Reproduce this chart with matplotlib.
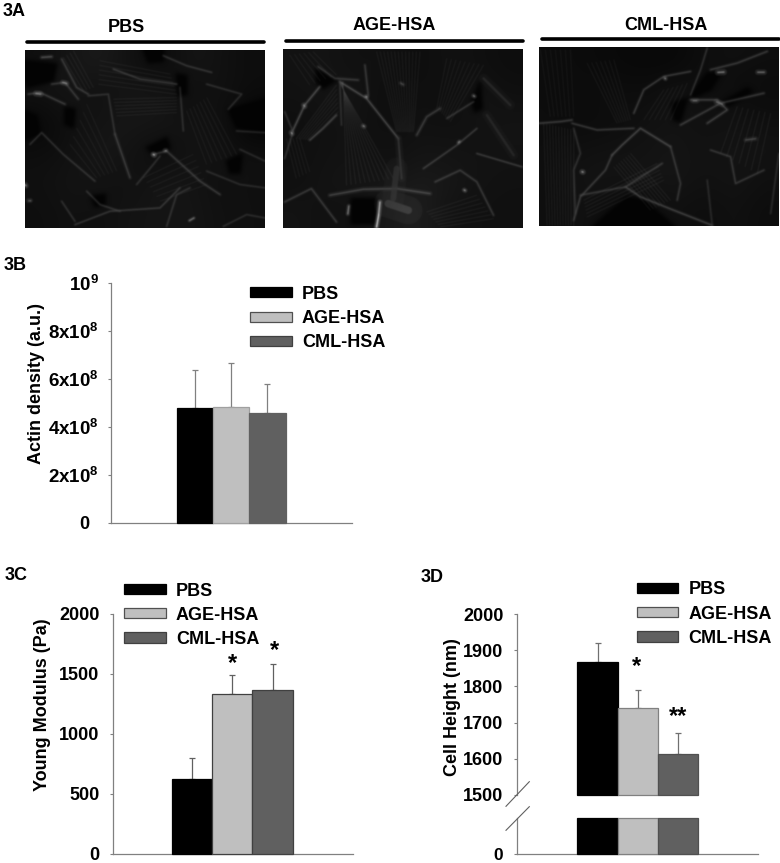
import numpy as np
import matplotlib
matplotlib.use("Agg")
import matplotlib.pyplot as plt
from matplotlib.backends.backend_agg import FigureCanvasAgg
from matplotlib.figure import Figure
from matplotlib.lines import Line2D
from matplotlib.patches import Patch, Polygon

plt.rcParams['font.family'] = ['Liberation Sans', 'DejaVu Sans']
plt.rcParams['font.weight'] = 'bold'
plt.rcParams['mathtext.fontset'] = 'custom'
plt.rcParams['mathtext.bf'] = 'Liberation Sans:bold'
plt.rcParams['mathtext.rm'] = 'Liberation Sans:bold'
plt.rcParams['mathtext.default'] = 'bf'

W, H = 780, 863
FS = 13

# ---------- data ----------
groups = ['PBS', 'AGE-HSA', 'CML-HSA']
colors = ['#000000', '#BFBFBF', '#606060']

actin = [4.77e8, 4.81e8, 4.56e8]
actin_top = [6.37e8, 6.67e8, 5.77e8]
actin_ticks = [0, 2e8, 4e8, 6e8, 8e8, 1e9]
actin_ticklabels = ['0', '2x10$^{8}$', '4x10$^{8}$', '6x10$^{8}$', '8x10$^{8}$', '10$^{9}$']

young = [623, 1330, 1366]
young_top = [796, 1488, 1583]
young_ticks = [0, 500, 1000, 1500, 2000]

height = [1869, 1741, 1614]
height_top = [1920, 1790, 1672]
height_ticks = [1500, 1600, 1700, 1800, 1900, 2000]

# ---------- micrograph sketches (not chart data) ----------
pbs_grid = [[20, 30, 38, 25, 15, 30, 25, 18],
            [25, 30, 22, 30, 30, 18, 25, 18],
            [10, 22, 28, 32, 32, 25, 25, 4],
            [20, 24, 32, 28, 14, 28, 26, 22],
            [22, 28, 26, 22, 32, 28, 22, 22],
            [20, 24, 22, 28, 28, 30, 24, 22]]
age_grid = [[25, 28, 22, 25, 18, 25, 22, 18],
            [25, 28, 30, 18, 22, 20, 28, 22],
            [20, 25, 25, 20, 25, 22, 25, 28],
            [22, 25, 26, 22, 28, 28, 26, 26],
            [22, 28, 30, 30, 38, 34, 26, 24],
            [28, 22, 25, 35, 45, 25, 24, 22]]
cml_grid = [[18, 16, 14, 12, 12, 20, 22, 20],
            [18, 18, 20, 18, 26, 20, 18, 16],
            [18, 16, 18, 24, 26, 24, 26, 22],
            [20, 24, 26, 26, 30, 24, 28, 26],
            [20, 28, 26, 28, 30, 24, 28, 22],
            [20, 25, 14, 14, 24, 18, 24, 18]]

pbs_dark = [[(625, 195), (735, 165), (735, 260), (650, 250)],
            [(370, 15), (430, 15), (430, 50), (385, 55)],
            [(15, 200), (50, 215), (60, 270), (15, 285)],
            [(135, 190), (165, 195), (160, 250), (135, 240)],
            [(215, 455), (255, 450), (255, 480), (225, 485)],
            [(470, 90), (500, 95), (500, 150), (475, 155)],
            [(15, 50), (110, 60), (100, 110), (20, 130)],
            [(380, 310), (440, 280), (450, 310), (400, 330)],
            [(620, 350), (665, 330), (660, 385), (630, 385)]]
age_dark = [[(215, 460), (290, 460), (285, 535), (215, 535)],
            [(110, 70), (170, 105), (130, 130), (110, 110)],
            [(575, 170), (600, 110), (605, 190), (585, 200)]]
cml_dark = [[(480, 165), (530, 100), (572, 100), (540, 150), (490, 172)],
            [(570, 190), (650, 145), (665, 155), (600, 195)],
            [(190, 557), (290, 470), (340, 480), (430, 557)],
            [(425, 190), (470, 175), (450, 245), (430, 240)]]

pbs_strokes = [([(280, 75), (360, 105), (470, 120)], 62, 1.0),
               ([(430, 35), (500, 65), (575, 85)], 60, 1.0),
               ([(125, 45), (170, 130), (205, 150)], 60, 1.2),
               ([(205, 155), (265, 150), (285, 270)], 52, 1.0),
               ([(285, 270), (330, 400)], 60, 1.4),
               ([(30, 300), (65, 265), (130, 330), (225, 410)], 56, 1.0),
               ([(25, 150), (60, 145), (135, 180)], 66, 1.2),
               ([(95, 120), (135, 115), (175, 165)], 60, 1.2),
               ([(400, 330), (440, 320), (540, 410), (600, 450)], 62, 1.2),
               ([(480, 130), (490, 260)], 52, 1.0),
               ([(560, 120), (665, 150), (625, 195)], 52, 1.0),
               ([(165, 540), (270, 500), (420, 490), (480, 430)], 60, 1.0),
               ([(125, 470), (165, 530)], 52, 1.0),
               ([(200, 440), (240, 480), (300, 500)], 56, 1.0),
               ([(440, 545), (470, 450), (510, 430)], 52, 1.0),
               ([(610, 545), (680, 510), (735, 520)], 48, 1.0),
               ([(560, 380), (660, 420), (735, 430)], 48, 1.0),
               ([(660, 315), (735, 350)], 48, 1.0),
               ([(650, 260), (735, 265)], 48, 1.0),
               ([(350, 420), (400, 360), (420, 335)], 52, 1.0),
               ([(48, 148), (62, 150)], 130, 2.0),
               ([(128, 115), (140, 118)], 130, 1.8),
               ([(400, 330), (403, 332)], 190, 1.8),
               ([(435, 318), (438, 318)], 140, 1.6),
               ([(508, 528), (522, 520)], 140, 1.1),
               ([(65, 40), (95, 38)], 90, 1.4),
               ([(15, 420), (18, 424)], 140, 1.8),
               ([(26, 468), (31, 468)], 100, 1.6)]
pbs_fibers = [((280, 165), (470, 160), (290, 215), (470, 205), 6, 42),
              ((240, 50), (450, 90), (235, 120), (470, 150), 6, 38),
              ((200, 180), (290, 380), (150, 300), (230, 400), 6, 38),
              ((500, 200), (560, 360), (560, 160), (650, 330), 7, 40),
              ((370, 400), (520, 330), (420, 470), (560, 420), 6, 38),
              ((160, 20), (220, 130), (130, 40), (190, 140), 4, 42)]

age_strokes = [([(40, 255), (75, 180), (120, 125)], 88, 1.2),
               ([(90, 285), (130, 250), (170, 210)], 76, 1.1),
               ([(180, 110), (260, 160), (355, 280)], 84, 1.2),
               ([(115, 65), (165, 100), (235, 105)], 60, 1.3),
               ([(255, 60), (265, 150)], 62, 1.2),
               ([(180, 110), (185, 240)], 50, 1.0),
               ([(410, 270), (440, 215), (480, 190)], 62, 1.4),
               ([(430, 370), (530, 300), (590, 250)], 66, 1.0),
               ([(590, 325), (725, 365)], 66, 1.0),
               ([(500, 220), (580, 170)], 62, 1.0),
               ([(150, 450), (250, 432), (350, 430), (450, 445)], 66, 1.6),
               ([(15, 470), (95, 430), (170, 530)], 62, 1.2),
               ([(15, 200), (40, 260), (15, 340)], 52, 1.0),
               ([(465, 410), (540, 375), (590, 410), (640, 510)], 62, 1.1),
               ([(355, 280), (365, 400)], 40, 2.4),
               ([(300, 470), (296, 510), (290, 545)], 235, 1.6),
               ([(207, 482), (204, 506)], 140, 1.4),
               ([(35, 262), (37, 266)], 150, 1.8),
               ([(72, 180), (75, 184)], 130, 1.8),
               ([(250, 242), (253, 244)], 140, 1.6),
               ([(258, 154), (261, 156)], 150, 1.5),
               ([(580, 152), (583, 154)], 150, 1.5),
               ([(535, 292), (538, 289)], 140, 1.4),
               ([(552, 434), (555, 436)], 160, 1.5),
               ([(362, 114), (370, 119)], 80, 1.4),
               ([(610, 100), (690, 180)], 28, 3.0),
               ([(620, 210), (700, 330)], 26, 3.0),
               ([(325, 475), (385, 495)], 45, 9.0),
               ([(350, 370), (340, 460)], 30, 7.0)]
age_fibers = [((190, 110), (200, 420), (180, 115), (340, 400), 11, 48),
              ((170, 120), (50, 280), (175, 200), (90, 285), 7, 44),
              ((290, 20), (350, 260), (420, 20), (400, 260), 13, 42),
              ((500, 40), (470, 190), (610, 60), (510, 230), 9, 40),
              ((20, 280), (50, 400), (60, 280), (90, 380), 5, 40),
              ((440, 500), (590, 450), (480, 545), (640, 520), 7, 40),
              ((30, 30), (90, 120), (100, 20), (170, 90), 6, 40)]

cml_strokes = [([(26, 250), (90, 245), (125, 240)], 70, 1.2),
               ([(125, 250), (200, 270), (310, 265)], 66, 1.1),
               ([(245, 345), (275, 315), (330, 265), (420, 320)], 78, 1.2),
               ([(245, 345), (225, 390), (150, 470), (130, 540)], 66, 1.1),
               ([(285, 440), (330, 470), (430, 510), (545, 555)], 74, 1.2),
               ([(150, 465), (285, 440), (395, 370)], 60, 1.2),
               ([(420, 320), (450, 430), (440, 480)], 60, 1.1),
               ([(310, 220), (340, 150), (400, 110), (480, 95)], 72, 1.1),
               ([(540, 90), (620, 70), (710, 35)], 66, 1.2),
               ([(530, 25), (510, 90), (480, 165)], 60, 1.0),
               ([(480, 180), (560, 180), (590, 210), (530, 250)], 70, 1.3),
               ([(450, 255), (570, 190), (700, 160)], 66, 1.2),
               ([(540, 330), (600, 350), (615, 430), (700, 390)], 60, 1.1),
               ([(130, 265), (150, 340), (130, 390), (135, 520)], 52, 1.1),
               ([(562, 98), (580, 97)], 130, 2.0),
               ([(680, 96), (700, 96)], 115, 1.8),
               ([(558, 186), (575, 193)], 105, 2.0),
               ([(487, 182), (498, 182)], 100, 1.8),
               ([(155, 395), (158, 396)], 160, 1.8),
               ([(403, 115), (405, 117)], 150, 1.5),
               ([(720, 520), (745, 340)], 46, 1.0),
               ([(545, 555), (530, 420)], 46, 1.0),
               ([(645, 300), (675, 296)], 72, 1.6)]
cml_fibers = [((40, 250), (50, 555), (130, 270), (130, 555), 11, 44),
              ((30, 30), (60, 230), (120, 30), (130, 230), 7, 36),
              ((170, 70), (260, 250), (250, 60), (300, 240), 7, 40),
              ((300, 340), (420, 480), (250, 380), (360, 510), 8, 44),
              ((620, 200), (570, 340), (720, 220), (680, 400), 7, 44),
              ((340, 240), (400, 150), (420, 240), (470, 130), 6, 40),
              ((160, 480), (380, 370), (170, 530), (400, 420), 6, 42)]


def px(x, y):
    return x / W, 1 - y / H


def add_axes_px(left, top, right, bottom):
    return fig.add_axes([left / W, 1 - bottom / H, (right - left) / W, (bottom - top) / H])


def ftext(x, y, s, **kw):
    kw.setdefault('fontsize', FS)
    kw.setdefault('fontweight', 'bold')
    kw.setdefault('ha', 'center')
    kw.setdefault('va', 'center')
    fig.text(*px(x, y), s, **kw)


def blur(img, sigma):
    r = int(3 * sigma) + 1
    k = np.exp(-0.5 * (np.arange(-r, r + 1) / sigma) ** 2)
    k /= k.sum()
    pad = np.pad(img, r, mode='edge')
    pad = np.apply_along_axis(lambda v: np.convolve(v, k, mode='same'), 0, pad)
    pad = np.apply_along_axis(lambda v: np.convolve(v, k, mode='same'), 1, pad)
    return pad[r:-r, r:-r]


def render_layer(lims, draw):
    x0, x1, y0, y1 = lims
    sub = Figure(figsize=(4.8, 3.58), dpi=100, facecolor='black')
    FigureCanvasAgg(sub)
    a = sub.add_axes([0, 0, 1, 1])
    a.set_facecolor('black')
    draw(a)
    a.set_xlim(x0, x1)
    a.set_ylim(y1, y0)
    a.axis('off')
    sub.canvas.draw()
    return np.asarray(sub.canvas.buffer_rgba())[:, :, 0].astype(float) / 255


def micrograph(box, lims, grid, dark, strokes, fibers):
    x0, x1, y0, y1 = lims

    def draw_base(a):
        a.imshow(np.array(grid, float) * 0.72, cmap='gray', vmin=0, vmax=255,
                 extent=(x0, x1, y1, y0), interpolation='bicubic', aspect='auto')
        for poly in dark:
            a.add_patch(Polygon(poly, closed=True, fc='#030303', ec='#030303', lw=3))

    def draw_lines(a):
        for p0, p1, q0, q1, n, g in fibers:
            for t in np.linspace(0, 1, n):
                s = np.array(p0) * (1 - t) + np.array(q0) * t
                e = np.array(p1) * (1 - t) + np.array(q1) * t
                a.plot([s[0], e[0]], [s[1], e[1]], color=str(g / 255), lw=0.6, alpha=0.8)
        for pts, g, lw in strokes:
            xs, ys = zip(*pts)
            c = str(g / 255)
            a.plot(xs, ys, color=c, lw=lw * 4.5, alpha=0.2, solid_capstyle='round')
            a.plot(xs, ys, color=c, lw=lw * 1.2, alpha=0.75, solid_capstyle='round')

    img = blur(render_layer(lims, draw_base), 4.0) + blur(render_layer(lims, draw_lines), 1.2)
    ax = add_axes_px(*box)
    ax.imshow(np.clip(img, 0, 1), cmap='gray', vmin=0, vmax=1, aspect='auto',
              interpolation='antialiased')
    ax.axis('off')
    return ax


def style_axes(ax):
    for s in ('top', 'right'):
        ax.spines[s].set_visible(False)
    for s in ('left', 'bottom'):
        ax.spines[s].set_color('#808080')
        ax.spines[s].set_linewidth(0.9)
    ax.tick_params(axis='y', direction='out', length=2.5, width=0.8, color='#808080',
                   labelsize=FS, pad=7)
    ax.set_xticks([])
    ax.patch.set_alpha(0)


def bars(ax, lefts, rights, vals, tops, edge, bottom=0, ecolor='#707070', cap=2.5):
    for i in range(3):
        c = (lefts[i] + rights[i]) / 2
        if tops is not None:
            ax.errorbar(c, vals[i], yerr=[[0], [tops[i] - vals[i]]], color=ecolor, lw=0.9,
                        capsize=cap, capthick=0.9, zorder=2)
        ax.bar(c, vals[i] - bottom, width=rights[i] - lefts[i], bottom=bottom,
               color=colors[i], edgecolor=edge[i], linewidth=0.9, zorder=3, clip_on=False)


def legend(x, y, spacing):
    hs = [Patch(fc=colors[0], ec='#000000', lw=0.9),
          Patch(fc=colors[1], ec='#505050', lw=0.9),
          Patch(fc=colors[2], ec='#404040', lw=0.9)]
    fig.legend(handles=hs, labels=groups, loc='upper left',
               bbox_to_anchor=(x / W, 1 - y / H), bbox_transform=fig.transFigure,
               frameon=False, borderpad=0, borderaxespad=0, fontsize=FS,
               handlelength=2.3, handleheight=0.48, handletextpad=0.58,
               labelspacing=spacing)


fig = plt.figure(figsize=(W / 100, H / 100), dpi=100, facecolor='white')

# ---------- Panel 3A ----------
micrograph((25, 50, 265, 228.5), (15, 735, 15, 550), pbs_grid, pbs_dark, pbs_strokes, pbs_fibers)
micrograph((283.3, 49, 522.7, 227.7), (10, 728, 12, 548), age_grid, age_dark, age_strokes, age_fibers)
micrograph((538.7, 47.3, 778.3, 225.7), (26, 745, 22, 557), cml_grid, cml_dark, cml_strokes, cml_fibers)

for (x0, x1, yy) in [(27, 264, 42), (286, 522.5, 40.7), (542, 779, 39.3)]:
    fig.add_artist(Line2D([x0 / W, x1 / W], [1 - yy / H] * 2, color='black', lw=2.6,
                          solid_capstyle='round', transform=fig.transFigure))
ftext(126, 27, groups[0])
ftext(394.5, 26, groups[1])
ftext(666, 25, groups[2])
ftext(2.5, 11, '3A', ha='left')
ftext(3.5, 265, '3B', ha='left')
ftext(5, 575, '3C', ha='left')
ftext(421, 577, '3D', ha='left')

# ---------- Panel 3B ----------
axB = add_axes_px(111, 283, 351.5, 522.7)
style_axes(axB)
axB.set_xlim(111, 351.5)
axB.set_ylim(0, 1e9)
bars(axB, [177, 213, 249], [213, 249, 285.5], actin, actin_top,
     ['#000000', '#A0A0A0', '#606060'], ecolor='#808080')
axB.set_yticks(actin_ticks)
axB.set_yticklabels(actin_ticklabels)
axB.tick_params(axis='y', pad=6)
for lab in axB.get_yticklabels()[1:]:
    lab.set_fontsize(13.5)
axB.yaxis.get_major_ticks()[0].set_pad(13)
legend(250, 285.8, 0.4)
ftext(37, 383, 'Actin density (a.u.)', rotation=90)

# ---------- Panel 3C ----------
axC = add_axes_px(112.7, 614, 352.7, 853.7)
style_axes(axC)
axC.set_xlim(112.7, 352.7)
axC.set_ylim(0, 2000)
bars(axC, [171.7, 212.3, 252.3], [212.3, 252.3, 293.3], young, young_top,
     ['#000000', '#404040', '#404040'], ecolor='#606060')
axC.set_yticks(young_ticks)
axC.tick_params(axis='y', pad=7)
legend(124, 582.5, 0.4)
ftext(43, 705, 'Young Modulus (Pa)', rotation=90)
ftext(232.7, 664, '*', fontsize=17)
ftext(274, 651, '*', fontsize=17)

# ---------- Panel 3D ----------
axD = add_axes_px(517.3, 614.3, 757.7, 794.7)
style_axes(axD)
axD.spines['bottom'].set_visible(False)
axD.set_xlim(517.3, 757.7)
axD.set_ylim(1500, 2000)
bars(axD, [577, 618, 657.7], [618, 657.7, 698.3], height, height_top,
     ['#000000', '#808080', '#505050'], bottom=1500, ecolor='#707070')
axD.set_yticks(height_ticks)
axD.tick_params(axis='y', pad=7.5)

axD2 = add_axes_px(517.3, 818.3, 757.7, 854.3)
style_axes(axD2)
axD2.set_xlim(517.3, 757.7)
axD2.set_ylim(0, 100)
bars(axD2, [577, 618, 657.7], [618, 657.7, 698.3], [100, 100, 100], None,
     ['#000000', '#808080', '#505050'])
axD2.set_yticks([0])
axD2.tick_params(axis='y', pad=7.5, labelsize=12.5)

for (xa, ya, xb, yb) in [(506, 806.3, 529.3, 781.7), (506, 830.3, 529.3, 806.7)]:
    fig.add_artist(Line2D([xa / W, xb / W], [1 - ya / H, 1 - yb / H], color='#606060', lw=0.8,
                          transform=fig.transFigure))
legend(636.7, 581.5, 0.4)
ftext(452, 707, 'Cell Height (nm)', rotation=90)
ftext(636.7, 667, '*', fontsize=17)
ftext(678.3, 717, '**', fontsize=17)

fig.savefig('out.png', dpi=100, facecolor='white')
